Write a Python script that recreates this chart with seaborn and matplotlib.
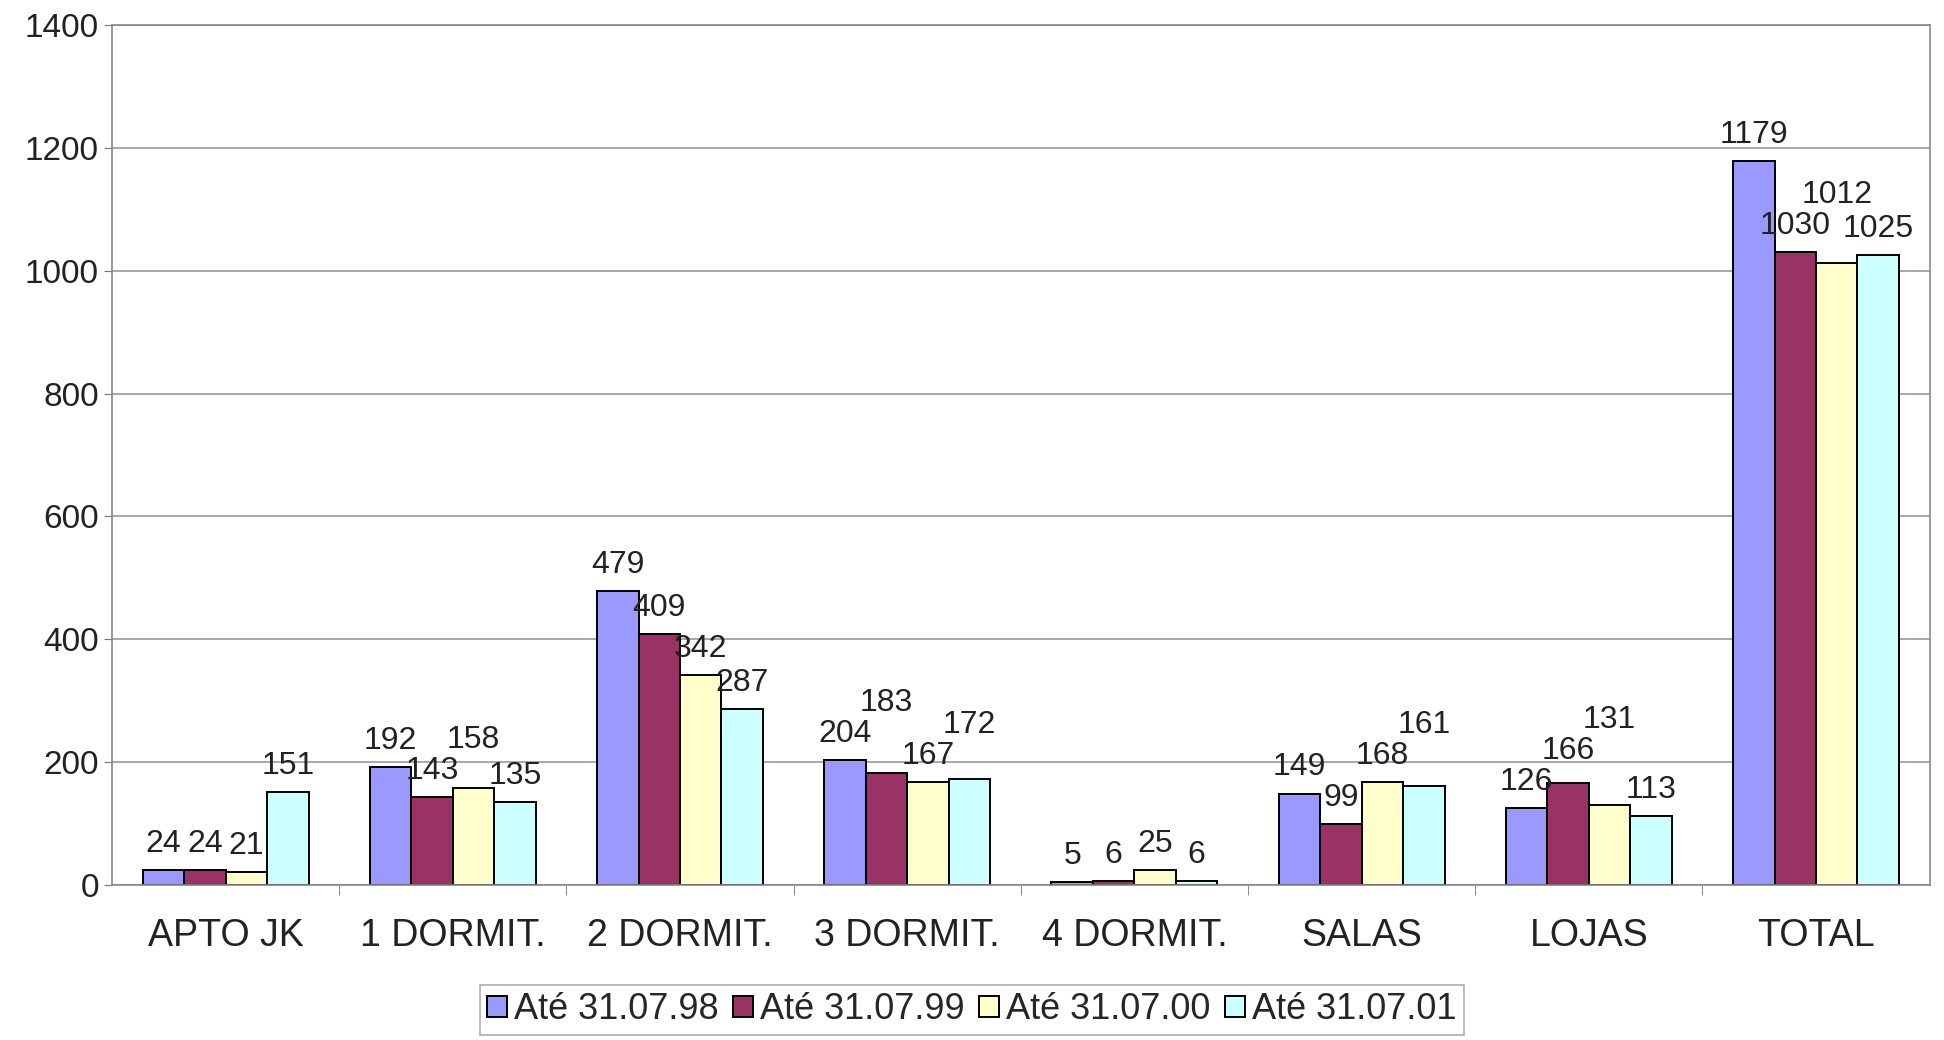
import pandas as pd
import matplotlib
matplotlib.use('Agg')
import matplotlib.pyplot as plt
import seaborn as sns

# categories and series
categorias = ['APTO JK', '1 DORMIT.', '2 DORMIT.', '3 DORMIT.', '4 DORMIT.', 'SALAS', 'LOJAS', 'TOTAL']
series = ['Até 31.07.98', 'Até 31.07.99', 'Até 31.07.00', 'Até 31.07.01']
v98 = [24, 192, 479, 204, 5, 149, 126, 1179]
v99 = [24, 143, 409, 183, 6, 99, 166, 1030]
v00 = [21, 158, 342, 167, 25, 168, 131, 1012]
v01 = [151, 135, 287, 172, 6, 161, 113, 1025]

cores = ['#9999FF', '#993366', '#FFFFCC', '#CCFFFF']

rows = []
for s, vals in zip(series, [v98, v99, v00, v01]):
    for c, v in zip(categorias, vals):
        rows.append({'Categoria': c, 'Periodo': s, 'Valor': v})
df = pd.DataFrame(rows)

sns.set_style('white')
plt.rcParams['font.family'] = ['Liberation Sans', 'DejaVu Sans']

fig = plt.figure(figsize=(19.44, 10.4), dpi=100)
ax = fig.add_axes([0.0576, 0.149, 0.935, 0.827])

sns.barplot(data=df, x='Categoria', y='Valor', hue='Periodo', order=categorias,
            hue_order=series, palette=cores, edgecolor='black', linewidth=1.4,
            width=0.73, gap=0, saturation=1, ax=ax, legend=True)

labels = []
for cont in ax.containers:
    labels.append(ax.bar_label(cont, fmt='%d', padding=8, fontsize=23, color='#222222'))

ax.set_ylim(0, 1400)
ax.set_yticks(range(0, 1401, 200))
ax.yaxis.grid(True, color='#9a9a9a', linewidth=1.2)
ax.set_axisbelow(True)
ax.set_xlim(-0.5, len(categorias) - 0.5)
ax.set_xlabel('')
ax.set_ylabel('')
ax.tick_params(axis='y', labelsize=24, length=6, color='#777777', labelcolor='#222222', left=True)
ax.tick_params(axis='x', which='major', labelsize=27, length=0, pad=24, labelcolor='#222222')
ax.set_xticks([i + 0.5 for i in range(len(categorias) - 1)], minor=True)
ax.tick_params(axis='x', which='minor', length=7, color='#777777', bottom=True)
for sp in ax.spines.values():
    sp.set_color('#888888')
    sp.set_linewidth(1.2)

leg = ax.legend(loc='lower center', bbox_to_anchor=(0.5, 0.0), bbox_transform=fig.transFigure,
                ncol=4, fontsize=26, frameon=True, fancybox=False, edgecolor='#999999',
                handlelength=0.55, handleheight=0.55, handletextpad=0.2, columnspacing=0.4,
                borderpad=0.2, borderaxespad=0.15)
leg.get_frame().set_linewidth(1.2)

# nudge value labels up where neighbours collide (staggered like the original)
fig.canvas.draw()
r = fig.canvas.get_renderer()
px2pt = 72.0 / fig.dpi
for j in range(len(categorias)):
    grupo = [labels[k][j] for k in range(len(series))]
    for k in range(1, len(grupo)):
        a = grupo[k - 1].get_window_extent(r)
        b = grupo[k].get_window_extent(r)
        if a.overlaps(b):
            x, y = grupo[k].xyann
            grupo[k].xyann = (x, y + (a.y1 - b.y0 + 1) * px2pt)

fig.savefig('out.png', dpi=100)
